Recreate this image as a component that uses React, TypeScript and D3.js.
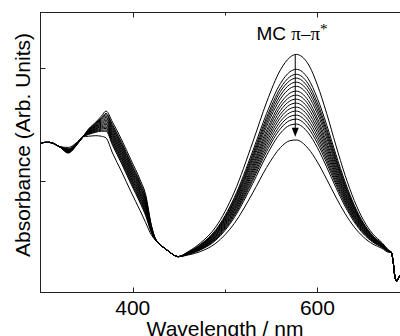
import React from 'react';
import * as d3 from 'd3';

// Shared start of all spectra (curves converge here)
const wlHead = [300, 305, 310, 320];
const absHead = [1.335, 1.34, 1.34, 1.305];

// Wavelengths where the spectra differ
const wlBody = [330, 340, 346, 352, 360, 366, 371, 378, 388, 398, 408, 414, 420, 424, 430, 438, 449,
  460, 473, 490, 510, 530, 545, 560, 570, 577, 590, 600, 610, 620, 630, 640, 650, 660, 670, 677];

// One row per spectrum (top = first measured, bottom = last)
const spectra = [
  [1.245, 1.325, 1.39, 1.46, 1.522, 1.575, 1.62, 1.522, 1.362, 1.184, 1.006, 0.872, 0.605, 0.49, 0.427, 0.374, 0.32, 0.365, 0.44, 0.587, 0.897, 1.343, 1.70, 1.988, 2.098, 2.126, 2.04, 1.853, 1.60, 1.315, 1.047, 0.82, 0.645, 0.523, 0.445, 0.38],
  [1.249, 1.327, 1.39, 1.455, 1.512, 1.560, 1.600, 1.499, 1.338, 1.160, 0.983, 0.851, 0.598, 0.489, 0.426, 0.373, 0.32, 0.360, 0.427, 0.561, 0.848, 1.264, 1.599, 1.867, 1.969, 1.993, 1.909, 1.733, 1.498, 1.234, 0.988, 0.779, 0.619, 0.507, 0.436, 0.377],
  [1.252, 1.328, 1.39, 1.451, 1.506, 1.551, 1.588, 1.485, 1.324, 1.146, 0.969, 0.839, 0.593, 0.488, 0.426, 0.373, 0.32, 0.358, 0.423, 0.553, 0.832, 1.238, 1.564, 1.826, 1.925, 1.948, 1.864, 1.693, 1.463, 1.207, 0.967, 0.765, 0.610, 0.502, 0.433, 0.375],
  [1.254, 1.329, 1.39, 1.448, 1.499, 1.542, 1.576, 1.471, 1.309, 1.131, 0.955, 0.826, 0.589, 0.487, 0.426, 0.373, 0.32, 0.357, 0.419, 0.546, 0.819, 1.217, 1.538, 1.795, 1.891, 1.914, 1.830, 1.662, 1.437, 1.186, 0.952, 0.754, 0.603, 0.498, 0.431, 0.374],
  [1.257, 1.330, 1.39, 1.445, 1.493, 1.532, 1.563, 1.457, 1.295, 1.117, 0.941, 0.813, 0.584, 0.486, 0.426, 0.373, 0.32, 0.355, 0.416, 0.539, 0.806, 1.196, 1.511, 1.762, 1.857, 1.878, 1.795, 1.629, 1.409, 1.165, 0.936, 0.743, 0.596, 0.494, 0.428, 0.374],
  [1.259, 1.331, 1.39, 1.441, 1.487, 1.523, 1.551, 1.443, 1.280, 1.102, 0.927, 0.800, 0.579, 0.485, 0.426, 0.373, 0.32, 0.354, 0.412, 0.532, 0.793, 1.174, 1.483, 1.729, 1.821, 1.841, 1.759, 1.596, 1.381, 1.142, 0.919, 0.732, 0.589, 0.489, 0.426, 0.373],
  [1.262, 1.332, 1.39, 1.438, 1.481, 1.514, 1.539, 1.428, 1.265, 1.087, 0.912, 0.788, 0.575, 0.484, 0.426, 0.373, 0.32, 0.352, 0.408, 0.524, 0.777, 1.148, 1.449, 1.690, 1.779, 1.798, 1.716, 1.557, 1.347, 1.116, 0.900, 0.719, 0.580, 0.484, 0.423, 0.371],
  [1.265, 1.333, 1.39, 1.435, 1.474, 1.505, 1.526, 1.414, 1.251, 1.073, 0.898, 0.775, 0.570, 0.483, 0.426, 0.373, 0.32, 0.351, 0.404, 0.517, 0.764, 1.127, 1.423, 1.658, 1.744, 1.762, 1.681, 1.526, 1.320, 1.095, 0.884, 0.708, 0.573, 0.480, 0.421, 0.371],
  [1.267, 1.334, 1.39, 1.431, 1.468, 1.495, 1.514, 1.400, 1.236, 1.058, 0.884, 0.762, 0.566, 0.482, 0.426, 0.373, 0.32, 0.349, 0.401, 0.510, 0.751, 1.106, 1.395, 1.625, 1.709, 1.726, 1.646, 1.493, 1.293, 1.073, 0.868, 0.697, 0.566, 0.476, 0.418, 0.370],
  [1.270, 1.335, 1.39, 1.428, 1.462, 1.486, 1.502, 1.386, 1.222, 1.044, 0.870, 0.749, 0.561, 0.481, 0.426, 0.373, 0.32, 0.348, 0.397, 0.503, 0.737, 1.085, 1.368, 1.592, 1.675, 1.691, 1.610, 1.461, 1.265, 1.051, 0.852, 0.686, 0.559, 0.472, 0.416, 0.369],
  [1.272, 1.336, 1.39, 1.425, 1.456, 1.477, 1.489, 1.372, 1.207, 1.029, 0.856, 0.736, 0.557, 0.480, 0.426, 0.373, 0.32, 0.347, 0.394, 0.496, 0.725, 1.064, 1.341, 1.561, 1.640, 1.655, 1.576, 1.429, 1.238, 1.030, 0.836, 0.675, 0.552, 0.468, 0.414, 0.368],
  [1.275, 1.337, 1.39, 1.421, 1.449, 1.468, 1.477, 1.358, 1.192, 1.014, 0.842, 0.724, 0.552, 0.479, 0.426, 0.373, 0.32, 0.345, 0.390, 0.490, 0.711, 1.043, 1.314, 1.528, 1.605, 1.620, 1.540, 1.397, 1.210, 1.008, 0.820, 0.664, 0.545, 0.463, 0.411, 0.367],
  [1.277, 1.338, 1.39, 1.418, 1.443, 1.459, 1.465, 1.343, 1.178, 1.000, 0.827, 0.711, 0.547, 0.478, 0.426, 0.373, 0.32, 0.344, 0.387, 0.483, 0.698, 1.021, 1.286, 1.495, 1.571, 1.584, 1.505, 1.365, 1.183, 0.986, 0.804, 0.652, 0.538, 0.459, 0.409, 0.366],
  [1.280, 1.339, 1.39, 1.415, 1.437, 1.449, 1.452, 1.329, 1.163, 0.985, 0.813, 0.698, 0.543, 0.477, 0.426, 0.373, 0.32, 0.342, 0.383, 0.476, 0.685, 1.001, 1.259, 1.463, 1.536, 1.548, 1.470, 1.333, 1.156, 0.965, 0.788, 0.642, 0.531, 0.455, 0.406, 0.365],
  [1.283, 1.340, 1.39, 1.411, 1.431, 1.440, 1.440, 1.315, 1.148, 0.970, 0.799, 0.685, 0.538, 0.477, 0.426, 0.373, 0.32, 0.341, 0.379, 0.467, 0.669, 0.974, 1.225, 1.423, 1.493, 1.504, 1.426, 1.293, 1.121, 0.938, 0.769, 0.628, 0.522, 0.450, 0.404, 0.364],
  [1.295, 1.345, 1.39, 1.395, 1.40, 1.395, 1.38, 1.246, 1.077, 0.899, 0.730, 0.623, 0.516, 0.472, 0.425, 0.372, 0.32, 0.335, 0.365, 0.44, 0.617, 0.89, 1.117, 1.294, 1.355, 1.362, 1.286, 1.165, 1.012, 0.852, 0.705, 0.584, 0.494, 0.433, 0.394, 0.36],
];

// Shared end of all spectra
const wlTail = [680, 682, 684, 686, 688, 690, 695, 700];
const absTail = [0.36, 0.28, 0.14, 0.10, 0.13, 0.16, 0.20, 0.22];

const xMajorTicks = [400, 600];
const xMinorTicks = [500];
const yMajorTicks = [1, 2];

const arrowWl = 576;
const arrowFrom = 2.12;
const arrowTo = 1.39;

const xTitle = 'Wavelength / nm';
const yTitle = 'Absorbance (Arb. Units)';

export default function App() {
  const W = 400;
  const H = 336;
  const left = 40.5, right = 409.7, top = 12.5, bottom = 292.5;
  const x = d3.scaleLinear().domain([300, 700]).range([left, right]);
  const y = d3.scaleLinear().domain([0, 2.5]).range([bottom, top]);
  const line = d3.line<[number, number]>()
    .x(d => x(d[0]))
    .y(d => y(d[1]))
    .curve(d3.curveMonotoneX);

  const series = spectra.map(row => {
    const pts: [number, number][] = [];
    wlHead.forEach((w, i) => pts.push([w, absHead[i]]));
    wlBody.forEach((w, i) => pts.push([w, row[i]]));
    wlTail.forEach((w, i) => pts.push([w, absTail[i]]));
    return pts;
  });

  const font = "'Liberation Sans', Arial, sans-serif";
  const ax = x(arrowWl);
  const tipY = y(arrowTo);

  return (
    <>
      <style>{`body{margin:0;background:#fff}`}</style>
      <svg width={W} height={H} style={{ display: 'block' }}>
        <defs>
          <clipPath id="plot">
            <rect x={left} y={top} width={right - left} height={bottom - top} />
          </clipPath>
        </defs>
        <rect x={0} y={0} width={W} height={H} fill="#fff" />
        <g clipPath="url(#plot)">
          {series.map((s, i) => (
            <path key={i} d={line(s) || ''} fill="none" stroke="#000" strokeWidth={1} />
          ))}
        </g>
        {/* arrow */}
        <line x1={ax} x2={ax} y1={y(arrowFrom)} y2={tipY - 6} stroke="#000" strokeWidth={1} />
        <path d={`M${ax - 3.5},${tipY - 9} L${ax + 3.5},${tipY - 9} L${ax},${tipY} Z`} fill="#000" />
        {/* frame */}
        <rect x={left} y={top} width={right - left} height={bottom - top} fill="none" stroke="#222" strokeWidth={1} />
        {xMajorTicks.map(t => (
          <g key={'xM' + t}>
            <line x1={Math.round(x(t)) + 0.5} x2={Math.round(x(t)) + 0.5} y1={bottom} y2={bottom - 5} stroke="#222" />
            <line x1={Math.round(x(t)) + 0.5} x2={Math.round(x(t)) + 0.5} y1={top} y2={top + 5} stroke="#222" />
            <text x={x(t)} y={315} textAnchor="middle" fontFamily={font} fontSize={21} fill="#000">{t}</text>
          </g>
        ))}
        {xMinorTicks.map(t => (
          <g key={'xm' + t}>
            <line x1={Math.round(x(t)) + 0.5} x2={Math.round(x(t)) + 0.5} y1={bottom} y2={bottom - 3} stroke="#222" />
            <line x1={Math.round(x(t)) + 0.5} x2={Math.round(x(t)) + 0.5} y1={top} y2={top + 3} stroke="#222" />
          </g>
        ))}
        {yMajorTicks.map(t => (
          <line key={'y' + t} x1={left} x2={left + 5} y1={Math.round(y(t)) + 0.5} y2={Math.round(y(t)) + 0.5} stroke="#222" />
        ))}
        <text x={225} y={336} textAnchor="middle" fontFamily={font} fontSize={21} fill="#000">{xTitle}</text>
        <text transform={`translate(30,145) rotate(-90)`} textAnchor="middle" fontFamily={font} fontSize={21} fill="#000">{yTitle}</text>
        <text x={256.5} y={39.5} fontFamily={font} fontSize={19} fill="#000">
          MC <tspan fontFamily="'Liberation Serif', 'Times New Roman', serif" fontSize={19}>π–π</tspan>
          <tspan fontFamily="'Liberation Serif', 'Times New Roman', serif" fontSize={15} dy={-6}>*</tspan>
        </text>
      </svg>
    </>
  );
}
